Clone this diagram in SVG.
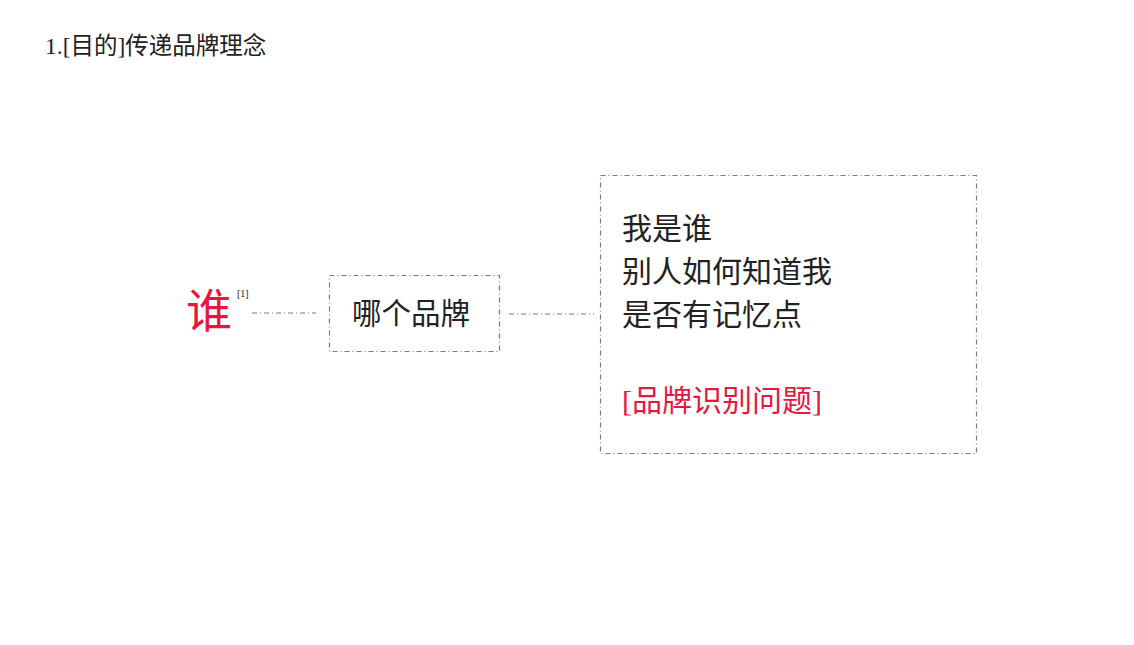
<svg xmlns="http://www.w3.org/2000/svg" width="1134" height="645" viewBox="0 0 1134 645">
<style>
text{font-family:"Liberation Serif","Noto Sans CJK SC",serif;fill:#222}
.red{fill:#e5173f}
.box{fill:none;stroke:#7a7a7a;stroke-width:1.2;stroke-dasharray:5 3 1 3}
.conn{stroke:#7a7a7a;stroke-width:1.2;stroke-dasharray:5 3 1 3;fill:none}
</style>
<rect width="1134" height="645" fill="#fff"/>
<text x="45" y="54" font-size="23.5">1.[目的]传递品牌理念</text>
<g id="who">
<text class="red" x="186" y="327" font-size="46">谁</text>
<text x="237" y="297" font-size="10" fill="#444">[1]</text>
</g>
<g id="connectors">
<line class="conn" x1="252" y1="313" x2="316" y2="313"/>
<line class="conn" x1="509" y1="314" x2="594" y2="314"/>
</g>
<g id="brand">
<rect class="box" x="329.5" y="275.5" width="170" height="76"/>
<text x="411" y="324" font-size="29.5" text-anchor="middle">哪个品牌</text>
</g>
<g id="questions">
<rect class="box" x="600.5" y="175.5" width="376" height="278"/>
<text x="622" y="239" font-size="30">我是谁</text>
<text x="622" y="282" font-size="30">别人如何知道我</text>
<text x="622" y="325" font-size="30">是否有记忆点</text>
<text class="red" x="622" y="411" font-size="30">[品牌识别问题]</text>
</g>
</svg>
